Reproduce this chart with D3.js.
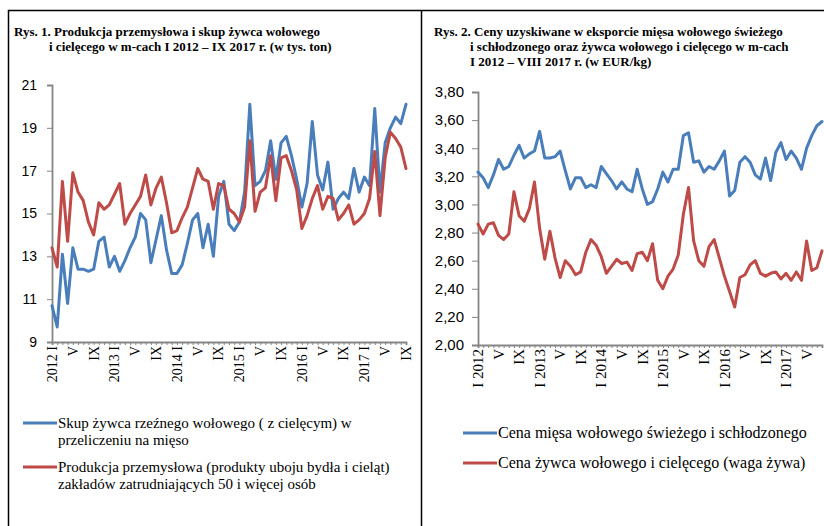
<!DOCTYPE html>
<html>
<head>
<meta charset="utf-8">
<script src="https://cdn.jsdelivr.net/npm/d3@7"></script>
<style>
body { margin: 0; background: #fff; }
svg { display: block; font-family: "Liberation Serif", "Times New Roman", serif; }
</style>
</head>
<body>
<script>
var width = 824
var height = 526
var blue = "#4a7ebb"
var red = "#be4b48"
var axis_grey = "#868686"

var romans = ["I","II","III","IV","V","VI","VII","VIII","IX","X","XI","XII"]
var years = [2012, 2013, 2014, 2015, 2016, 2017]

// Rys. 1 - I 2012 .. IX 2017 (w tys. ton)
var left_months = []
years.forEach(function(yr) { romans.forEach(function(m) { left_months.push(m + " " + yr) }) })
left_months = left_months.slice(0, 69)
var left_tick_labels = ["2012 I","V","IX","2013 I","V","IX","2014 I","V","IX","2015 I","V","IX","2016 I","V","IX","2017 I","V","IX"]
var left_y_ticks = [9, 11, 13, 15, 17, 19, 21]

var skup = [10.7, 9.7, 13.1, 10.8, 13.4, 12.4, 12.4, 12.3, 12.4, 13.7, 13.9, 12.5,
  13.0, 12.3, 12.8, 13.4, 13.9, 15.0, 14.7, 12.7, 13.8, 14.9, 13.3, 12.2,
  12.2, 12.6, 13.6, 14.7, 15.0, 13.4, 14.5, 13.0, 15.8, 16.5, 14.5, 14.2,
  14.6, 16.0, 20.1, 16.3, 16.5, 17.0, 18.4, 16.6, 18.3, 18.6, 17.7, 16.6,
  15.3, 16.4, 19.3, 16.8, 16.1, 17.4, 15.2, 15.7, 16.0, 15.7, 17.1, 16.0,
  16.7, 16.3, 19.9, 16.0, 18.3, 19.0, 19.5, 19.2, 20.1]
var produkcja = [13.4, 12.5, 16.5, 13.7, 16.9, 16.0, 15.6, 14.6, 14.0, 15.5, 15.2, 15.4,
  15.9, 16.4, 14.5, 15.0, 15.4, 15.8, 16.8, 15.4, 16.2, 16.7, 15.5, 14.1,
  14.2, 14.8, 15.3, 16.2, 17.1, 16.6, 16.5, 15.2, 16.4, 16.3, 15.2, 15.0,
  14.6, 15.3, 18.4, 15.1, 16.0, 16.2, 17.7, 15.6, 17.6, 17.7, 17.0, 16.1,
  14.3, 14.9, 15.7, 16.3, 15.2, 15.8, 15.7, 14.7, 15.0, 15.4, 14.5, 14.7,
  15.0, 15.7, 17.9, 14.9, 17.6, 18.8, 18.5, 18.1, 17.1]

// Rys. 2 - I 2012 .. VIII 2017 (w EUR/kg)
var right_months = left_months.slice(0, 68)
var right_tick_labels = ["I 2012","V","IX","I 2013","V","IX","I 2014","V","IX","I 2015","V","IX","I 2016","V","IX","I 2017","V"]
var right_y_ticks = [2.0, 2.2, 2.4, 2.6, 2.8, 3.0, 3.2, 3.4, 3.6, 3.8]

var cena_miesa = [3.23, 3.19, 3.12, 3.21, 3.32, 3.25, 3.27, 3.35, 3.42, 3.33, 3.36, 3.38,
  3.52, 3.33, 3.33, 3.34, 3.38, 3.24, 3.11, 3.19, 3.19, 3.12, 3.14, 3.12,
  3.27, 3.22, 3.17, 3.11, 3.16, 3.11, 3.09, 3.25, 3.11, 3.00, 3.02, 3.11,
  3.23, 3.16, 3.25, 3.25, 3.49, 3.51, 3.30, 3.31, 3.23, 3.27, 3.25, 3.31,
  3.38, 3.06, 3.10, 3.30, 3.34, 3.30, 3.21, 3.18, 3.33, 3.17, 3.37, 3.44,
  3.32, 3.38, 3.33, 3.25, 3.40, 3.49, 3.56, 3.59]
var cena_zywca = [2.86, 2.79, 2.86, 2.87, 2.78, 2.75, 2.79, 3.09, 2.92, 2.88, 2.97, 3.16,
  2.83, 2.61, 2.81, 2.62, 2.48, 2.60, 2.56, 2.50, 2.52, 2.66, 2.75, 2.71,
  2.63, 2.51, 2.56, 2.61, 2.58, 2.59, 2.53, 2.65, 2.66, 2.60, 2.72, 2.46,
  2.40, 2.49, 2.54, 2.64, 2.93, 3.12, 2.74, 2.60, 2.56, 2.70, 2.75, 2.62,
  2.49, 2.38, 2.27, 2.48, 2.50, 2.57, 2.60, 2.51, 2.49, 2.51, 2.52, 2.47,
  2.51, 2.46, 2.52, 2.46, 2.74, 2.53, 2.55, 2.67]

var pl = d3.formatLocale({decimal: ",", thousands: " ", grouping: [3], currency: ["", " zł"]})

var svg = d3.select("body").append("svg")
  .attr("width", width)
  .attr("height", height)

// frame
svg.append("path")
  .attr("d", "M8.5," + height + "V10.5H" + width + "M421.5,10.5V" + height)
  .attr("fill", "none")
  .attr("stroke", "#000")
  .attr("stroke-width", 1.5)

function title(lines) {
  lines.forEach(function(l) {
    svg.append("text")
      .attr("x", l[0]).attr("y", l[1])
      .style("font-size", "13px")
      .style("font-weight", "bold")
      .text(l[2])
  })
}

title([
  [14, 36, "Rys. 1. Produkcja przemysłowa i skup żywca wołowego"],
  [49, 51, "i cielęcego w m-cach I 2012 – IX 2017 r. (w tys. ton)"],
  [434, 36, "Rys. 2. Ceny uzyskiwane w eksporcie mięsa wołowego świeżego"],
  [470, 51, "i schłodzonego oraz żywca wołowego i cielęcego w m-cach"],
  [470, 66, "I 2012 – VIII 2017 r. (w EUR/kg)"]
])

function draw_chart(opt) {
  var x = d3.scalePoint().domain(opt.months).range([opt.x0, opt.x1])
  var y = d3.scaleLinear().domain(d3.extent(opt.y_ticks)).range([opt.y1, opt.y0])

  var gy = svg.append("g")
    .attr("transform", "translate(" + opt.x0 + ",0)")
    .call(d3.axisLeft(y).tickValues(opt.y_ticks).tickSize(opt.tick_len).tickPadding(opt.pad).tickFormat(opt.fmt))
  gy.selectAll("text").style("font-size", opt.font + "px").attr("fill", "#000")

  var gx = svg.append("g")
    .attr("transform", "translate(0," + opt.y1 + ")")
    .call(d3.axisBottom(x).tickSize(3).tickFormat(""))
  gx.selectAll("text").remove()

  svg.selectAll(".domain").attr("stroke", axis_grey).attr("stroke-width", 1.8)
  svg.selectAll(".tick line").attr("stroke", axis_grey).attr("stroke-width", 1)

  var labels = svg.append("g")
  opt.tick_labels.forEach(function(t, i) {
    var px = x(opt.months[i * 4])
    labels.append("text")
      .attr("transform", "translate(" + (px + opt.font * 0.35) + "," + (opt.y1 + 4) + ") rotate(-90)")
      .attr("text-anchor", "end")
      .style("font-size", opt.font + "px")
      .text(t)
  })

  var line = d3.line()
    .x(function(d, i) { return x(opt.months[i]) })
    .y(function(d) { return y(d) })

  opt.series.forEach(function(s) {
    svg.append("path")
      .datum(s.values)
      .attr("d", line)
      .attr("fill", "none")
      .attr("stroke", s.color)
      .attr("stroke-width", 3)
      .attr("stroke-linejoin", "round")
      .attr("stroke-linecap", "round")
  })

  opt.legend.forEach(function(lg) {
    svg.append("line")
      .attr("x1", lg.x).attr("x2", lg.x + 34)
      .attr("y1", lg.y).attr("y2", lg.y)
      .attr("stroke", lg.color).attr("stroke-width", 3)
    lg.lines.forEach(function(txt, k) {
      svg.append("text")
        .attr("x", lg.x + 35)
        .attr("y", lg.y + 4.5 + k * opt.leg_step)
        .style("font-size", opt.leg_font + "px")
        .text(txt)
    })
  })
}

draw_chart({
  months: left_months, tick_labels: left_tick_labels, y_ticks: left_y_ticks,
  x0: 52, x1: 406, y0: 85, y1: 342, tick_len: 5, pad: 10, font: 14,
  fmt: d3.format("d"),
  series: [{values: skup, color: blue}, {values: produkcja, color: red}],
  leg_font: 15, leg_step: 17.5,
  legend: [
    {x: 23, y: 423, color: blue, lines: ["Skup żywca rzeźnego wołowego ( z cielęcym) w", "przeliczeniu na mięso"]},
    {x: 23, y: 467, color: red, lines: ["Produkcja przemysłowa (produkty uboju bydła i cieląt)", "zakładów zatrudniających 50 i więcej osób"]}
  ]
})

draw_chart({
  months: right_months, tick_labels: right_tick_labels, y_ticks: right_y_ticks,
  x0: 478, x1: 822, y0: 92, y1: 345, tick_len: 6, pad: 8, font: 15,
  fmt: pl.format(".2f"),
  series: [{values: cena_miesa, color: blue}, {values: cena_zywca, color: red}],
  leg_font: 16, leg_step: 18,
  legend: [
    {x: 463, y: 433, color: blue, lines: ["Cena mięsa wołowego świeżego i schłodzonego"]},
    {x: 463, y: 463, color: red, lines: ["Cena żywca wołowego i cielęcego (waga żywa)"]}
  ]
})
</script>
</body>
</html>
